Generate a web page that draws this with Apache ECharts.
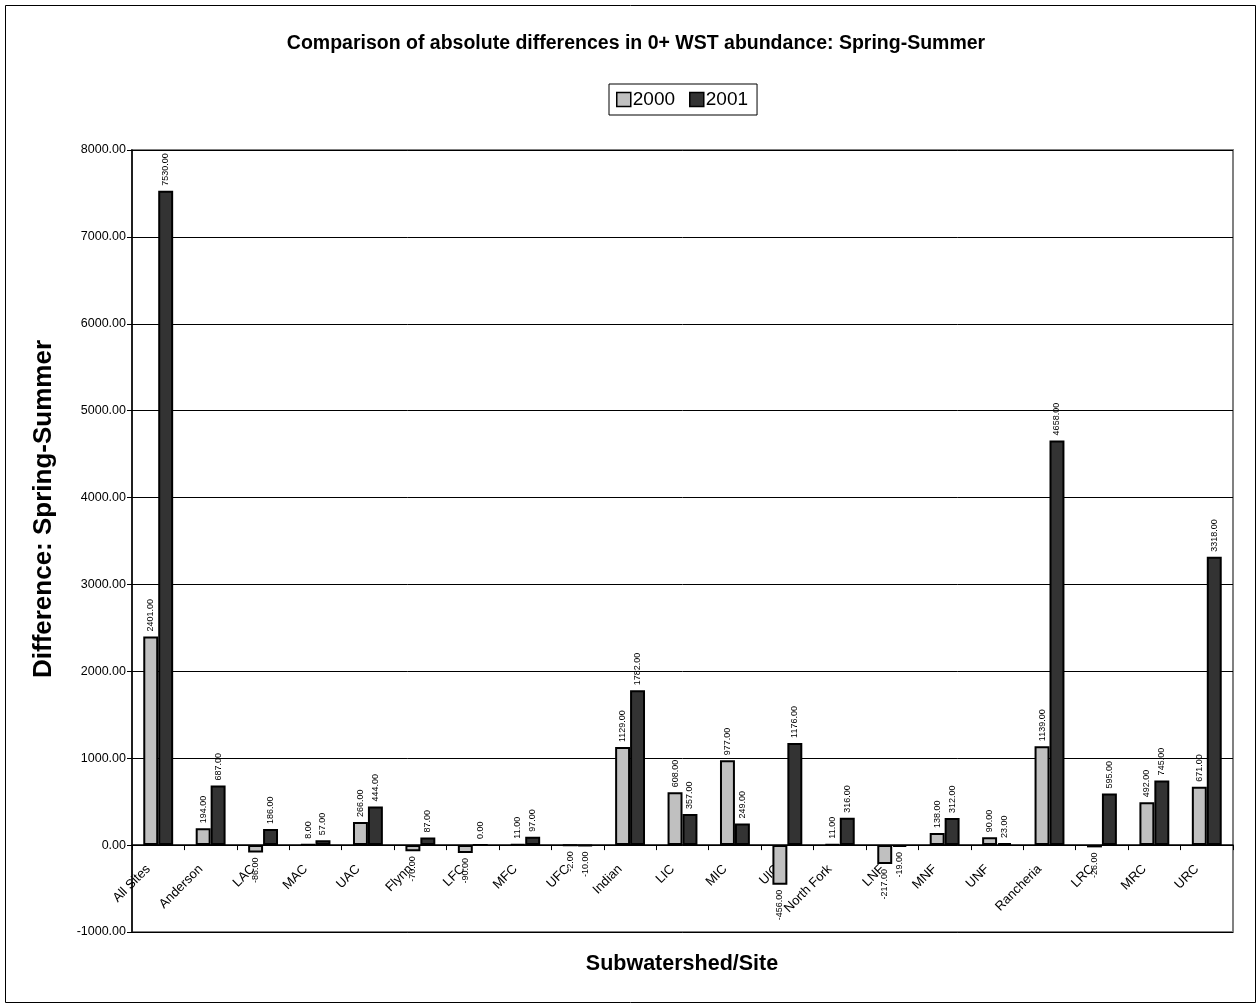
<!DOCTYPE html>
<html>
<head>
<meta charset="utf-8">
<script src="https://cdn.jsdelivr.net/npm/echarts@6/dist/echarts.min.js"></script>
<style>
  html, body { margin: 0; padding: 0; background: #fff; }
  #chart { width: 1257px; height: 1004px; }
</style>
</head>
<body>
<div id="chart"></div>
<script>
// Sites grouped by subwatershed
const categories = ['All Sites', 'Anderson', 'LAC', 'MAC', 'UAC', 'Flynn', 'LFC', 'MFC', 'UFC',
  'Indian', 'LIC', 'MIC', 'UIC', 'North Fork', 'LNF', 'MNF', 'UNF', 'Rancheria', 'LRC', 'MRC', 'URC'];

// Spring minus summer abundance differences
const values2000 = [2401, 194, -86, 8, 266, -70, -90, 11, -2, 1129, 608, 977, -456, 11, -217, 138, 90, 1139, -26, 492, 671];
const values2001 = [7530, 687, 186, 57, 444, 87, 0, 97, -10, 1782, 357, 249, 1176, 316, -19, 312, 23, 4658, 595, 745, 3318];

const yTicks = { min: -1000, max: 8000, interval: 1000 };

const FONT = 'Arial, "Liberation Sans", Helvetica, sans-serif';
const gridBox = { left: 132, right: 24, top: 150, bottom: 72 };
const plotHeight = 1004 - gridBox.top - gridBox.bottom;
// lift the category axis so it runs along the zero line
const zeroOffset = -plotHeight * (0 - yTicks.min) / (yTicks.max - yTicks.min);

function withLabels(arr) {
  return arr.map(v => ({
    value: v,
    label: v < 0
      ? { position: 'bottom', align: 'right' }
      : { position: 'top', align: 'left' }
  }));
}

const labelStyle = {
  show: true,
  rotate: 90,
  distance: 5,
  verticalAlign: 'middle',
  fontFamily: FONT,
  fontSize: 9,
  color: '#000',
  formatter: p => Number(p.value).toFixed(2)
};

const chart = echarts.init(document.getElementById('chart'));
chart.setOption({
  animation: false,
  backgroundColor: '#fff',
  legend: {
    data: ['2000', '2001'],
    left: 609,
    top: 84,
    padding: [6, 9, 6, 7],
    itemGap: 14,
    itemWidth: 14,
    itemHeight: 14,
    borderColor: '#000',
    borderWidth: 1,
    icon: 'rect',
    itemStyle: { borderColor: '#000', borderWidth: 1.5 },
    textStyle: { fontFamily: FONT, fontSize: 19, color: '#000', padding: [0, 0, 0, -3] }
  },
  grid: Object.assign({
    show: true,
    borderColor: '#808080',
    borderWidth: 2,
    backgroundColor: '#fff'
  }, gridBox),
  xAxis: {
    type: 'category',
    data: categories,
    offset: zeroOffset,
    axisLine: { onZero: false, lineStyle: { color: '#000', width: 1.5 } },
    axisTick: { show: true, length: 5, lineStyle: { color: '#000' } },
    axisLabel: {
      rotate: 45,
      margin: 12,
      padding: [0, 14, 0, 0],
      interval: 0,
      fontFamily: FONT,
      fontSize: 13,
      color: '#000'
    }
  },
  yAxis: {
    type: 'value',
    min: yTicks.min,
    max: yTicks.max,
    interval: yTicks.interval,
    axisLine: { show: true, lineStyle: { color: '#000', width: 1.5 } },
    axisTick: { show: true, length: 5, lineStyle: { color: '#000' } },
    splitLine: { show: true, lineStyle: { color: '#000', width: 1 } },
    axisLabel: {
      margin: 6,
      fontFamily: FONT,
      fontSize: 12.5,
      color: '#000',
      formatter: v => v.toFixed(2)
    }
  },
  series: [
    {
      name: '2000',
      type: 'bar',
      data: withLabels(values2000),
      barGap: '0%',
      barCategoryGap: '43%',
      itemStyle: { color: '#c0c0c0', borderColor: '#000', borderWidth: 2 },
      label: labelStyle
    },
    {
      name: '2001',
      type: 'bar',
      data: withLabels(values2001),
      barGap: '0%',
      barCategoryGap: '43%',
      itemStyle: { color: '#333333', borderColor: '#000', borderWidth: 2 },
      label: labelStyle
    }
  ],
  graphic: [
    {
      type: 'rect',
      left: 3, top: 3,
      shape: { width: 1250, height: 997 },
      style: { fill: 'none', stroke: '#000', lineWidth: 1 },
      silent: true
    },
    {
      type: 'text',
      x: 636, y: 44,
      style: {
        text: 'Comparison of absolute differences in 0+ WST abundance: Spring-Summer',
        align: 'center',
        verticalAlign: 'middle',
        fontFamily: FONT,
        fontSize: 19.5,
        fontWeight: 'bold',
        fill: '#000'
      }
    },
    {
      type: 'text',
      x: 44, y: 509,
      rotation: Math.PI / 2,
      style: {
        text: 'Difference: Spring-Summer',
        align: 'center',
        verticalAlign: 'middle',
        fontFamily: FONT,
        fontSize: 26,
        fontWeight: 'bold',
        fill: '#000'
      }
    },
    {
      type: 'text',
      x: 682, y: 964,
      style: {
        text: 'Subwatershed/Site',
        align: 'center',
        verticalAlign: 'middle',
        fontFamily: FONT,
        fontSize: 21.5,
        fontWeight: 'bold',
        fill: '#000'
      }
    }
  ]
});
</script>
</body>
</html>
